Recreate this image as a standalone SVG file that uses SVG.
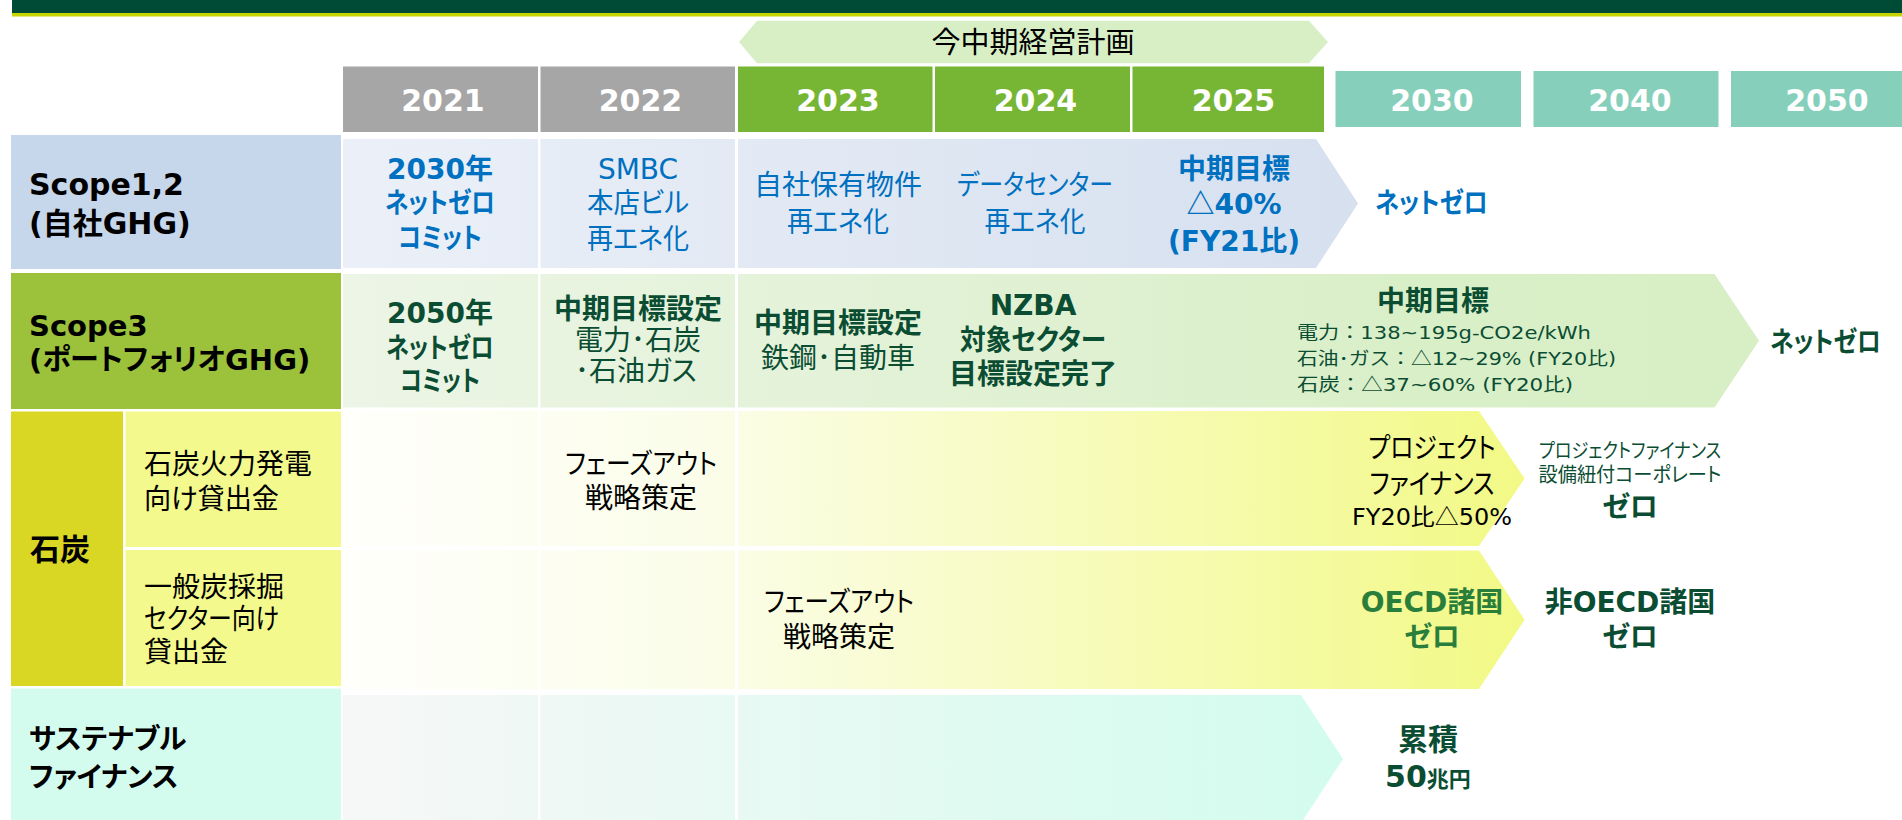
<svg xmlns="http://www.w3.org/2000/svg" width="1902" height="820" viewBox="0 0 1902 820">
<defs>
<style>
.f{font-family:"DejaVu Sans","Noto Sans CJK JP",sans-serif;font-feature-settings:"palt" 1}
.cj{font-family:"Noto Sans CJK JP",sans-serif}
.np{font-feature-settings:normal}
.b{font-weight:700}
.m{text-anchor:middle}
.s30{font-size:30px}.s29{font-size:29px}.s28{font-size:28px}.s23{font-size:23px}.s22{font-size:22px}.s20{font-size:20px}.s18{font-size:18px}
.bl{fill:#0070C0}.dg{fill:#0B4D33}.k{fill:#000}.w{fill:#fff}.og{fill:#2A7E3B}
.gray{fill:#A6A6A6}.grn{fill:#77B634}.teal{fill:#86CFBB}
</style>
<linearGradient id="g1" gradientUnits="userSpaceOnUse" x1="343" y1="0" x2="1358" y2="0">
<stop offset="0" stop-color="#EBF0F8"/><stop offset="1" stop-color="#D6E0EF"/>
</linearGradient>
<linearGradient id="g2" gradientUnits="userSpaceOnUse" x1="343" y1="0" x2="1759" y2="0">
<stop offset="0" stop-color="#ECF5E6"/><stop offset="0.75" stop-color="#D9EFC8"/><stop offset="1" stop-color="#D8EFC5"/>
</linearGradient>
<linearGradient id="g3" gradientUnits="userSpaceOnUse" x1="343" y1="0" x2="1525" y2="0">
<stop offset="0" stop-color="#FFFFFB"/><stop offset="0.3" stop-color="#FBFDEA"/><stop offset="1" stop-color="#F2F985"/>
</linearGradient>
<linearGradient id="g5" gradientUnits="userSpaceOnUse" x1="343" y1="0" x2="1343" y2="0">
<stop offset="0" stop-color="#F6F7F7"/><stop offset="1" stop-color="#D3FCEE"/>
</linearGradient>
</defs>

<g id="topbar">
<rect x="12" y="0" width="1890" height="13" fill="#004B35"/>
<rect x="12" y="13" width="1890" height="3.5" fill="#C8D400"/>
</g>

<g id="plan-banner">
<polygon points="739,42 757,20.7 1309,20.7 1328,42 1309,63.3 757,63.3" fill="#D8EFC6"/>
<text class="f s29 m k" x="1033" y="53">今中期経営計画</text>
</g>

<g id="year-headers">
<rect class="gray" x="343" y="66.5" width="195" height="65.5"/>
<rect class="gray" x="540.5" y="66.5" width="194.5" height="65.5"/>
<rect class="grn" x="738" y="66.5" width="194.5" height="65.5"/>
<rect class="grn" x="935" y="66.5" width="195" height="65.5"/>
<rect class="grn" x="1132.5" y="66.5" width="191.5" height="65.5"/>
<rect class="teal" x="1335.5" y="71" width="185.5" height="56"/>
<rect class="teal" x="1533.5" y="71" width="185" height="56"/>
<rect class="teal" x="1731" y="71" width="185" height="56"/>
<text class="f b s30 m w" x="443" y="111">2021</text>
<text class="f b s30 m w" x="640.5" y="111">2022</text>
<text class="f b s30 m w" x="838" y="111">2023</text>
<text class="f b s30 m w" x="1035.5" y="111">2024</text>
<text class="f b s30 m w" x="1233.5" y="111">2025</text>
<text class="f b s30 m w" x="1432" y="111">2030</text>
<text class="f b s30 m w" x="1630" y="111">2040</text>
<text class="f b s30 m w" x="1827" y="111">2050</text>
</g>

<g id="row-scope12">
<rect x="11" y="135" width="330" height="134" fill="#C6D6EB"/>
<text class="f b s30 k" x="29" y="195">Scope1,2</text>
<text class="f b s30 k" x="29" y="234">(自社GHG)</text>
<rect x="343" y="139" width="195" height="129" fill="url(#g1)"/>
<rect x="540.5" y="139" width="194.5" height="129" fill="url(#g1)"/>
<polygon points="738,139 1316,139 1358,203.5 1316,268 738,268" fill="url(#g1)"/>
<text class="f b s28 m bl" x="440" y="179">2030年</text>
<text class="f b s28 m bl" x="440" y="212.5" textLength="110" lengthAdjust="spacingAndGlyphs">ネットゼロ</text>
<text class="f b s28 m bl" x="440" y="248" textLength="84" lengthAdjust="spacingAndGlyphs">コミット</text>
<text class="f s28 m bl" x="638" y="178.5">SMBC</text>
<text class="f s28 m bl" x="638" y="212.5" textLength="102" lengthAdjust="spacingAndGlyphs">本店ビル</text>
<text class="f s28 m bl" x="638" y="249" textLength="102" lengthAdjust="spacingAndGlyphs">再エネ化</text>
<text class="f s28 m bl" x="838" y="195">自社保有物件</text>
<text class="f s28 m bl" x="838" y="231.5" textLength="102" lengthAdjust="spacingAndGlyphs">再エネ化</text>
<text class="f s28 m bl" x="1035" y="195" textLength="156" lengthAdjust="spacingAndGlyphs">データセンター</text>
<text class="f s28 m bl" x="1035" y="231.5" textLength="101" lengthAdjust="spacingAndGlyphs">再エネ化</text>
<text class="f b s28 m bl" x="1234" y="178.5">中期目標</text>
<text class="f b s28 m bl" x="1234" y="214"><tspan class="cj">△</tspan>40%</text>
<text class="f b s28 m bl" x="1234" y="250.5">(FY21比)</text>
<text class="f b s28 bl" x="1375" y="213" textLength="113" lengthAdjust="spacingAndGlyphs">ネットゼロ</text>
</g>

<g id="row-scope3">
<rect x="11" y="273" width="330" height="136" fill="#9CC13B"/>
<text class="f b s29 k" x="29" y="336">Scope3</text>
<text class="f b s29 k" x="29" y="370">(ポートフォリオGHG)</text>
<rect x="343" y="274" width="195" height="133.5" fill="url(#g2)"/>
<rect x="540.5" y="274" width="194.5" height="133.5" fill="url(#g2)"/>
<polygon points="738,274 1714.5,274 1759,340.75 1714.5,407.5 738,407.5" fill="url(#g2)"/>
<text class="f b s28 m dg" x="440" y="323">2050年</text>
<text class="f b s28 m dg" x="440" y="357.5" textLength="108" lengthAdjust="spacingAndGlyphs">ネットゼロ</text>
<text class="f b s28 m dg" x="440" y="391" textLength="80" lengthAdjust="spacingAndGlyphs">コミット</text>
<text class="f b s28 m dg" x="638" y="319">中期目標設定</text>
<text class="f s28 m dg" x="638" y="350">電力･石炭</text>
<text class="f s28 m dg" x="636" y="381">･石油ガス</text>
<text class="f b s28 m dg" x="838" y="333">中期目標設定</text>
<text class="f s28 m dg" x="838" y="368">鉄鋼･自動車</text>
<text class="f b s28 m dg" x="1033" y="315">NZBA</text>
<text class="f b s28 m dg" x="1033" y="350" textLength="146" lengthAdjust="spacingAndGlyphs">対象セクター</text>
<text class="f b s28 m dg" x="1033" y="384">目標設定完了</text>
<text class="f b s28 m dg" x="1433" y="310.5">中期目標</text>
<text class="f np s18 dg" x="1297" y="338.5" textLength="294" lengthAdjust="spacingAndGlyphs">電力：138~195g-CO2e/kWh</text>
<text class="f np s18 dg" x="1297" y="364.7" textLength="319" lengthAdjust="spacingAndGlyphs">石油･ガス：<tspan class="cj">△</tspan>12~29% (FY20比)</text>
<text class="f np s18 dg" x="1297" y="390.9" textLength="276" lengthAdjust="spacingAndGlyphs">石炭：<tspan class="cj">△</tspan>37~60% (FY20比)</text>
<text class="f b s28 dg" x="1770" y="351.5" textLength="111" lengthAdjust="spacingAndGlyphs">ネットゼロ</text>
</g>

<g id="row-coal-power">
<rect x="11" y="411.5" width="112" height="274.5" fill="#D9D624"/>
<text class="f b s30 k" x="30" y="559.5">石炭</text>
<rect x="125.5" y="411.5" width="215.5" height="135.5" fill="#F3F98C"/>
<text class="f s28 k" x="144" y="473.5">石炭火力発電</text>
<text class="f s28 k" x="144" y="508.5" textLength="135" lengthAdjust="spacingAndGlyphs">向け貸出金</text>
<rect x="343" y="411" width="195" height="135" fill="url(#g3)"/>
<rect x="540.5" y="411" width="194.5" height="135" fill="url(#g3)"/>
<polygon points="738,411 1479,411 1524.6,478.5 1479,546 738,546" fill="url(#g3)"/>
<text class="f s28 m k" x="641" y="473.5" textLength="152" lengthAdjust="spacingAndGlyphs">フェーズアウト</text>
<text class="f s28 m k" x="641" y="508">戦略策定</text>
<text class="f s28 m k" x="1432" y="458" textLength="127" lengthAdjust="spacingAndGlyphs">プロジェクト</text>
<text class="f s28 m k" x="1432" y="494" textLength="125" lengthAdjust="spacingAndGlyphs">ファイナンス</text>
<text class="f s23 m k" x="1432" y="525" textLength="160" lengthAdjust="spacingAndGlyphs">FY20比<tspan class="cj">△</tspan>50%</text>
<text class="f s20 m dg" x="1630" y="457.5" textLength="182" lengthAdjust="spacingAndGlyphs">プロジェクトファイナンス</text>
<text class="f s20 m dg" x="1630" y="481.5" textLength="183" lengthAdjust="spacingAndGlyphs">設備紐付コーポレート</text>
<text class="f b s28 m dg" x="1630" y="516.5">ゼロ</text>
</g>

<g id="row-coal-mining">
<rect x="125.5" y="550" width="215.5" height="136" fill="#F3F98C"/>
<text class="f s28 k" x="144" y="596.5">一般炭採掘</text>
<text class="f s28 k" x="144" y="629" textLength="135" lengthAdjust="spacingAndGlyphs">セクター向け</text>
<text class="f s28 k" x="144" y="662">貸出金</text>
<rect x="343" y="550.5" width="195" height="138.5" fill="url(#g3)"/>
<rect x="540.5" y="550.5" width="194.5" height="138.5" fill="url(#g3)"/>
<polygon points="738,550.5 1479,550.5 1524.6,619.75 1479,689 738,689" fill="url(#g3)"/>
<text class="f s28 m k" x="839" y="611.5" textLength="150" lengthAdjust="spacingAndGlyphs">フェーズアウト</text>
<text class="f s28 m k" x="839" y="647">戦略策定</text>
<text class="f b s28 m og" x="1432" y="611.5">OECD諸国</text>
<text class="f b s28 m og" x="1432" y="647">ゼロ</text>
<text class="f b s28 m dg" x="1630" y="611.5">非OECD諸国</text>
<text class="f b s28 m dg" x="1630" y="647">ゼロ</text>
</g>

<g id="row-sustainable-finance">
<rect x="11" y="688.5" width="330" height="134" fill="#D3FCEE"/>
<text class="f b s28 k" x="29" y="748.5">サステナブル</text>
<text class="f b s28 k" x="29" y="786.5">ファイナンス</text>
<rect x="343" y="695" width="195" height="128" fill="url(#g5)"/>
<rect x="540.5" y="695" width="194.5" height="128" fill="url(#g5)"/>
<polygon points="738,695 1301,695 1343,759 1301,823 738,823" fill="url(#g5)"/>
<text class="f b s30 m dg" x="1428" y="750">累積</text>
<text class="f b s30 m dg" x="1428" y="787">50<tspan class="s22">兆円</tspan></text>
</g>
</svg>
